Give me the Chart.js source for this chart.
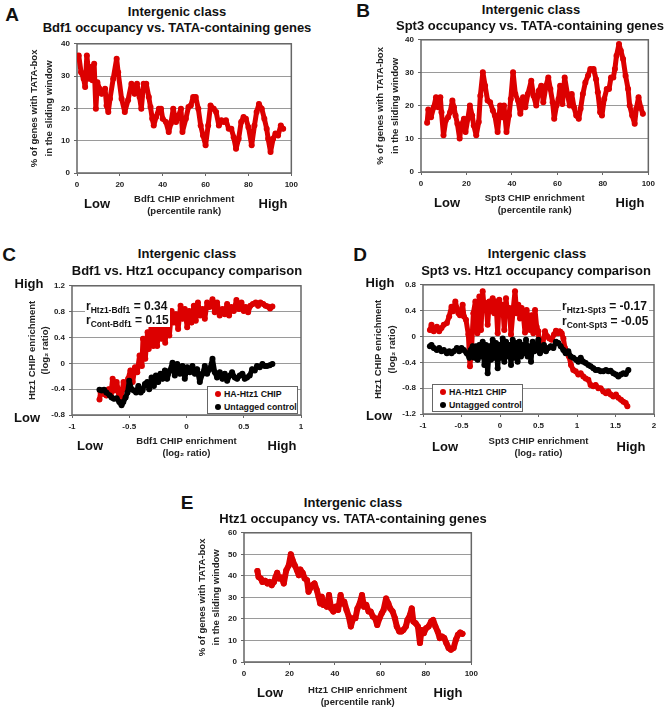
<!DOCTYPE html>
<html>
<head>
<meta charset="utf-8">
<script src="https://cdn.jsdelivr.net/npm/chart.js@4.4.0/dist/chart.umd.min.js"></script>
<style>
  body { margin: 0; background: #fff; }
  #fig { position: relative; width: 671px; height: 712px; overflow: hidden;
         font-family: "Liberation Sans", Arial, sans-serif; font-weight: bold; color: #111; }
  #fig canvas { position: absolute; }
  .t { position: absolute; transform: translate(-50%, -50%); white-space: nowrap; font-size: 13px; }
  .letter { font-size: 19px; }
  .r { position: absolute; font-size: 12px; line-height: 14px; background: #fff; white-space: nowrap; padding: 0 1px; }
  .r sub { font-size: 8.5px; line-height: 0; vertical-align: -3px; }
  .leg { position: absolute; border: 1px solid #666; background: #fff; font-size: 8.8px; box-sizing: border-box; padding-top: 1px; }
  .leg div { display: flex; align-items: center; height: 12.5px; padding-left: 7px; white-space: nowrap; }
  .leg i { display: inline-block; width: 6px; height: 6px; border-radius: 50%; margin-right: 3px; }
</style>
</head>
<body>
<div id="fig">
  <canvas id="chartA"></canvas>
  <canvas id="chartB"></canvas>
  <canvas id="chartC"></canvas>
  <canvas id="chartD"></canvas>
  <canvas id="chartE"></canvas>

  <div class="t letter" style="left:12px;top:15px">A</div>
  <div class="t" style="left:177px;top:11px">Intergenic class</div>
  <div class="t" style="left:177px;top:27px">Bdf1 occupancy vs. TATA-containing genes</div>
  <div class="t" style="left:97px;top:203px">Low</div>
  <div class="t" style="left:273px;top:203px">High</div>

  <div class="t letter" style="left:363px;top:11px">B</div>
  <div class="t" style="left:531px;top:9px">Intergenic class</div>
  <div class="t" style="left:530px;top:25px">Spt3 occupancy vs. TATA-containing genes</div>
  <div class="t" style="left:447px;top:202px">Low</div>
  <div class="t" style="left:630px;top:202px">High</div>

  <div class="t letter" style="left:9px;top:255px">C</div>
  <div class="t" style="left:187px;top:253px">Intergenic class</div>
  <div class="t" style="left:187px;top:270px">Bdf1 vs. Htz1 occupancy comparison</div>
  <div class="t" style="left:29px;top:283px">High</div>
  <div class="t" style="left:27px;top:417px">Low</div>
  <div class="t" style="left:90px;top:445px">Low</div>
  <div class="t" style="left:282px;top:445px">High</div>
  <div class="r" style="left:85px;top:299px">r<sub>Htz1-Bdf1</sub> = 0.34<br>r<sub>Cont-Bdf1</sub> = 0.15</div>
  <div class="leg" style="left:207px;top:386px;width:91px;height:28px">
    <div><i style="background:#dc0000"></i>HA-Htz1 CHIP</div>
    <div><i style="background:#000"></i>Untagged control</div>
  </div>

  <div class="t letter" style="left:360px;top:255px">D</div>
  <div class="t" style="left:537px;top:253px">Intergenic class</div>
  <div class="t" style="left:536px;top:270px">Spt3 vs. Htz1 occupancy comparison</div>
  <div class="t" style="left:380px;top:282px">High</div>
  <div class="t" style="left:379px;top:415px">Low</div>
  <div class="t" style="left:445px;top:446px">Low</div>
  <div class="t" style="left:631px;top:446px">High</div>
  <div class="r" style="left:561px;top:299px;line-height:15px">r<sub>Htz1-Spt3</sub> = -0.17<br>r<sub>Cont-Spt3</sub> = -0.05</div>
  <div class="leg" style="left:432px;top:384px;width:91px;height:28px">
    <div><i style="background:#dc0000"></i>HA-Htz1 CHIP</div>
    <div><i style="background:#000"></i>Untagged control</div>
  </div>

  <div class="t letter" style="left:187px;top:503px">E</div>
  <div class="t" style="left:353px;top:502px">Intergenic class</div>
  <div class="t" style="left:353px;top:518px">Htz1 occupancy vs. TATA-containing genes</div>
  <div class="t" style="left:270px;top:692px">Low</div>
  <div class="t" style="left:448px;top:692px">High</div>
</div>

<script>
// ---- data ----

// A: Bdf1 percentile rank vs % TATA genes
const aX = [0.8,1.9,3.1,3.8,4.6,5.7,6.5,7.2,8.0,8.8, 9.5,10.5,11.5,13.1,13.8,14.6,15.4,16.9,18.5,19.2,
  20.8,22.3,23.8,25.4,26.9,28.0,29.2,30.0,31.1,32.3, 33.5,34.3,35.1,35.8,36.9,38.2,39.2,40.0,41.5,42.8,
  43.8,44.9,46.2,47.4,48.5,49.2,50.8,52.0,53.1,54.2, 55.4,56.6,57.7,58.8,60.0,61.2,62.3,63.8,64.9,66.2,
  67.4,68.5,69.5,70.8,72.0,73.1,74.2,75.4,76.6,77.7, 78.8,80.0,81.5,82.8,83.8,84.9,86.2,87.4,88.5,89.2,
  90.3,91.5,92.6,93.8,95.1,96.2];
const aY = [36.4,31.2,29.2,26.6,36.4,29.2,32.8,28.7,33.8,19.9, 28.1,26.1,24.5,26.1,20.9,18.9,23.0,29.2,35.4,31.2,
  23.0,18.9,22.5,27.6,24.5,27.6,23.5,19.9,27.6,27.6, 23.5,20.4,16.8,14.7,17.3,19.9,19.9,16.8,15.8,12.7,
  15.3,19.9,15.8,17.8,19.9,12.7,16.8,20.4,20.9,23.5, 23.5,19.9,14.7,11.6,8.6,14.7,20.9,19.9,18.9,14.7,
  16.3,15.8,16.3,13.7,13.7,11.1,7.5,10.6,15.8,17.3, 16.8,14.2,8.6,14.7,18.9,21.4,19.9,16.8,13.7,10.6,
  6.5,10.6,12.2,11.6,14.7,13.7];

// B: Spt3 percentile rank vs % TATA genes
const bX = [2.7,3.2,4.4,5.6,6.6,7.6,8.5,9.0,9.9,10.9, 11.9,12.8,13.8,14.5,15.2,16.0,17.0,17.7,18.9,19.6,
  20.6,21.5,22.5,23.2,24.3,25.4,26.1,27.2,28.2,29.3, 30.4,31.6,32.5,33.7,34.8,35.8,36.5,37.6,38.7,39.5,
  40.5,41.5,42.7,43.7,44.9,45.9,47.0,48.5,49.5,50.7, 51.8,52.9,53.8,55.0,56.0,56.9,57.9,58.6,59.6,60.5,
  61.2,62.2,63.2,64.4,65.4,66.3,67.3,68.3,69.4,70.2, 71.2,72.3,73.5,74.5,75.9,77.0,77.8,78.8,79.6,80.6,
  81.7,82.7,83.6,84.6,85.3,86.0,87.1,87.9,88.9,90.0, 91.1,91.8,92.9,94.0,94.7,95.7,96.6,97.6];
const bY = [14.9,18.9,16.6,19.6,22.6,19.6,22.6,18.1,11.1,15.6, 16.6,18.1,21.6,19.6,17.1,14.6,10.1,14.1,16.1,12.1,
  16.1,20.1,17.1,14.1,11.1,15.1,23.1,30.2,26.1,21.6, 21.1,18.6,17.1,12.1,20.1,16.6,20.1,12.1,17.1,22.1,
  30.2,23.6,21.6,17.6,22.6,19.6,23.6,27.6,23.1,20.1, 24.6,26.1,21.1,26.1,28.6,25.1,21.1,16.1,20.1,22.1,
  26.1,20.6,28.6,23.6,20.1,23.6,19.6,17.1,16.1,19.1, 23.6,27.1,29.2,31.2,31.2,28.1,24.1,18.1,17.1,22.1,
  25.1,25.1,28.6,28.6,31.2,35.2,38.7,36.7,34.2,29.1, 25.1,20.1,17.1,14.6,19.1,22.6,19.6,17.6];

// C: Bdf1 log2 enrichment vs Htz1 log2 enrichment
const cHtzX = [-0.76,-0.75,-0.73,-0.70,-0.68,-0.66,-0.645,-0.63,-0.61,-0.59, -0.57,-0.55,-0.53,-0.51,-0.49,-0.47,-0.45,-0.43,-0.41,-0.39,
  -0.38,-0.36,-0.34,-0.33,-0.305,-0.29,-0.27,-0.256,-0.238,-0.22, -0.20,-0.186,-0.17,-0.15,-0.13,-0.11,-0.093,-0.073,-0.052,-0.035,
  -0.015,0.006,0.023,0.044,0.064,0.081,0.10,0.12,0.14,0.16, 0.18,0.20,0.227,0.247,0.267,0.29,0.314,0.334,0.355,0.372,
  0.392,0.413,0.436,0.459,0.48,0.50,0.517,0.538,0.558,0.58, 0.605,0.625,0.645,0.67,0.69,0.71,0.73,0.75];
const cHtzY = [-0.56,-0.45,-0.47,-0.50,-0.40,-0.47,-0.24,-0.42,-0.29,-0.47, -0.53,-0.29,-0.40,-0.24,-0.11,-0.29,-0.06,-0.14,0.12,-0.04,
  0.38,0.07,0.48,0.22,0.63,0.27,0.58,0.27,0.63,0.38, 0.58,0.32,0.69,0.43,0.81,0.63,0.76,0.53,0.89,0.69,
  0.84,0.56,0.81,0.63,0.89,0.66,0.94,0.74,0.84,0.69, 0.94,0.87,0.99,0.79,0.94,0.74,0.84,0.76,0.92,0.74,
  0.87,0.81,0.98,0.84,0.94,0.81,0.87,0.79,0.89,0.92, 0.94,0.89,0.94,0.92,0.89,0.88,0.85,0.88];
const cCtlX = [-0.76,-0.74,-0.72,-0.70,-0.67,-0.654,-0.634,-0.61,-0.587,-0.567, -0.552,-0.532,-0.515,-0.50,-0.48,-0.46,-0.44,-0.42,-0.40,-0.384,
  -0.363,-0.343,-0.326,-0.305,-0.285,-0.267,-0.247,-0.227,-0.209,-0.189, -0.169,-0.145,-0.122,-0.102,-0.081,-0.058,-0.035,-0.015,0.006,0.029,
  0.052,0.073,0.093,0.116,0.14,0.16,0.18,0.203,0.227,0.247, 0.267,0.291,0.314,0.334,0.355,0.378,0.398,0.422,0.442,0.465,
  0.488,0.509,0.529,0.552,0.573,0.596,0.616,0.64,0.663,0.683, 0.703,0.727,0.75];
const cCtlY = [-0.41,-0.42,-0.41,-0.45,-0.50,-0.53,-0.55,-0.54,-0.60,-0.65, -0.60,-0.53,-0.45,-0.27,-0.40,-0.42,-0.45,-0.35,-0.45,-0.42,
  -0.32,-0.29,-0.40,-0.22,-0.35,-0.19,-0.29,-0.16,-0.24,-0.11, -0.24,-0.11,0.01,-0.19,-0.01,-0.16,-0.04,-0.24,-0.06,-0.14,
  -0.04,-0.16,-0.09,-0.29,-0.16,-0.04,-0.16,-0.09,0.07,-0.14, -0.22,-0.14,-0.24,-0.16,-0.27,-0.19,-0.14,-0.22,-0.24,-0.19,
  -0.16,-0.24,-0.22,-0.19,-0.09,-0.11,-0.04,-0.06,-0.01,-0.04, -0.04,-0.03,-0.01];

// D: Spt3 log2 enrichment vs Htz1 log2 enrichment
const dHtzX = [-0.91,-0.89,-0.86,-0.82,-0.79,-0.76,-0.73,-0.69,-0.66,-0.63, -0.61,-0.58,-0.56,-0.54,-0.52,-0.50,-0.485,-0.468,-0.442,-0.411,
  -0.39,-0.368,-0.346,-0.32,-0.294,-0.268,-0.247,-0.225,-0.203,-0.182, -0.16,-0.139,-0.117,-0.095,-0.074,-0.052,-0.03,-0.009,0.013,0.035,
  0.056,0.078,0.10,0.121,0.143,0.173,0.195,0.216,0.238,0.26, 0.281,0.303,0.325,0.346,0.368,0.39,0.411,0.433,0.455,0.476,
  0.498,0.511,0.528,0.554,0.584,0.615,0.641,0.671,0.701,0.727, 0.753,0.779,0.801,0.823,0.844,0.866,0.896,0.922,0.952,0.983,
  1.017,1.048,1.082,1.113,1.147,1.177,1.212,1.242,1.277,1.307, 1.342,1.377,1.407,1.437,1.472,1.506,1.537,1.571,1.602,1.632,
  1.654];
const dHtzY = [0.10,0.18,0.08,0.15,0.08,0.13,0.18,0.21,0.31,0.46, 0.39,0.54,0.44,0.36,0.33,0.36,0.49,0.31,0.26,0.03,
  -0.46,-0.15,0.36,0.54,0.05,0.62,0.10,0.70,0.41,0.52, 0.18,0.54,0.39,0.59,0.36,0.54,0.05,0.57,0.39,0.49,
  0.10,0.59,0.33,0.44,0.03,0.44,0.70,0.36,0.49,0.28, 0.44,0.33,0.06,0.41,0.28,0.10,0.33,0.05,0.41,0.15,
  0.08,-0.23,-0.05,-0.13,0.08,0.0,-0.03,-0.05,0.03,0.09, 0.05,0.08,0.05,-0.03,-0.18,-0.26,-0.31,-0.44,-0.52,-0.54,
  -0.59,-0.57,-0.62,-0.65,-0.67,-0.75,-0.77,-0.75,-0.80,-0.80, -0.85,-0.88,-0.85,-0.90,-0.93,-0.90,-0.95,-0.98,-1.01,-1.03,
  -1.08];
const dCtlX = [-0.91,-0.89,-0.86,-0.82,-0.79,-0.76,-0.73,-0.69,-0.66,-0.63, -0.60,-0.56,-0.53,-0.50,-0.47,-0.433,-0.398,-0.381,-0.355,-0.333,
  -0.312,-0.29,-0.268,-0.247,-0.225,-0.203,-0.182,-0.16,-0.139,-0.117, -0.095,-0.074,-0.052,-0.03,-0.009,0.013,0.035,0.056,0.078,0.10,
  0.121,0.143,0.165,0.186,0.208,0.229,0.251,0.273,0.294,0.316, 0.338,0.359,0.381,0.403,0.424,0.446,0.468,0.498,0.519,0.541,
  0.571,0.597,0.628,0.658,0.693,0.727,0.758,0.788,0.823,0.853, 0.887,0.918,0.952,0.987,1.017,1.048,1.082,1.113,1.147,1.177,
  1.212,1.242,1.277,1.307,1.342,1.377,1.407,1.437,1.472,1.506, 1.537,1.571,1.602,1.632,1.667];
const dCtlY = [-0.15,-0.13,-0.18,-0.21,-0.18,-0.23,-0.21,-0.26,-0.23,-0.26, -0.23,-0.18,-0.23,-0.18,-0.21,-0.26,-0.33,-0.21,-0.15,-0.33,
  -0.15,-0.36,-0.13,-0.31,-0.08,-0.44,-0.13,-0.57,-0.15,-0.36, -0.05,-0.33,-0.10,-0.49,-0.13,-0.33,-0.03,-0.39,-0.08,-0.31,
  -0.13,-0.44,-0.05,-0.33,-0.10,-0.39,-0.08,-0.31,-0.13,-0.26, -0.05,-0.31,-0.15,-0.39,-0.08,-0.23,-0.18,-0.05,-0.26,-0.21,
  -0.13,-0.23,-0.18,-0.15,-0.18,-0.08,-0.10,-0.15,-0.21,-0.26, -0.23,-0.31,-0.33,-0.36,-0.39,-0.33,-0.39,-0.41,-0.44,-0.46,
  -0.49,-0.52,-0.52,-0.54,-0.54,-0.52,-0.54,-0.53,-0.57,-0.59, -0.62,-0.59,-0.57,-0.58,-0.52];

// E: Htz1 percentile rank vs % TATA genes
const eX = [5.9,6.4,7.4,8.1,9.3,10.3,11.3,12.2,13.2,13.9, 14.6,15.4,16.5,17.5,18.6,19.7,20.6,21.4,22.3,23.3,
  24.1,24.8,25.8,26.7,27.7,28.4,29.1,30.1,31.0,32.0, 32.8,33.5,34.2,34.9,35.7,36.4,37.4,38.3,39.3,40.3,
  41.4,42.5,43.2,44.1,45.1,46.1,47.0,48.0,49.0,49.9, 50.9,51.9,52.8,53.8,54.8,55.7,56.7,57.7,58.6,59.6,
  60.6,61.4,62.5,63.5,64.3,65.4,66.4,67.2,68.3,69.3, 70.1,71.2,71.9,73.0,73.8,74.5,75.5,76.5,77.4,78.1,
  79.1,80.1,81.2,82.3,83.2,84.2,85.2,86.1,87.1,88.1, 89.0,90.0,91.0,92.2,93.2,94.1,95.1,96.1];
const eY = [42.3,39.5,38.8,37.2,37.7,36.5,37.2,35.7,37.2,39.5, 41.4,38.8,39.2,36.5,42.6,44.9,50.0,47.2,44.9,42.6,
  40.3,42.9,41.4,38.8,38.0,32.6,34.2,35.7,36.5,33.4, 30.3,27.2,30.3,26.5,28.0,25.7,31.1,24.9,23.4,25.7,
  24.2,31.1,27.2,28.0,24.2,21.1,16.5,20.3,20.3,24.9, 27.2,31.1,25.7,26.5,23.4,23.4,21.1,20.3,17.2,20.3,
  22.6,24.2,29.5,27.2,24.9,23.4,20.3,16.5,14.2,14.2, 14.9,16.5,19.5,21.8,24.9,18.8,18.0,16.5,8.8,14.9,
  13.4,15.7,16.5,18.8,19.5,16.5,14.2,11.1,11.8,11.1, 8.8,6.5,5.7,6.5,10.3,12.6,13.7,13.1];

// tick values
const pctTicks = [0, 20, 40, 60, 80, 100];
const tata40Ticks = [0, 10, 20, 30, 40];
const tata60Ticks = [0, 10, 20, 30, 40, 50, 60];
const cXTicks = [-1, -0.5, 0, 0.5, 1];
const cYTicks = [-0.8, -0.4, 0, 0.4, 0.8, 1.2];
const dXTicks = [-1, -0.5, 0, 0.5, 1, 1.5, 2];
const dYTicks = [-1.2, -0.8, -0.4, 0, 0.4, 0.8];

// ---- drawing ----
const FONT = '"Liberation Sans", Arial, sans-serif';
const RED = '#dc0000';
const BLACK = '#000000';

// box around the plot area (Excel-style frame)
const framePlugin = {
  id: 'frame',
  beforeDatasetsDraw(chart) {
    const { ctx, chartArea: a } = chart;
    ctx.save();
    ctx.strokeStyle = '#666';
    ctx.lineWidth = 1.5;
    ctx.strokeRect(a.left, a.top, a.right - a.left, a.bottom - a.top);
    ctx.restore();
  }
};

function series(xs, ys, color, width, order) {
  return {
    data: xs.map((x, i) => ({ x: x, y: ys[i] })),
    showLine: true,
    borderColor: color,
    backgroundColor: color,
    borderWidth: width,
    borderJoinStyle: 'round',
    borderCapStyle: 'round',
    pointRadius: 3,
    pointBorderWidth: 0,
    pointHoverRadius: 0,
    tension: 0,
    order: order
  };
}

function drawPanel(id, g, p) {
  const cv = document.getElementById(id);
  cv.width = g.w; cv.height = g.h;
  cv.style.left = g.x + 'px'; cv.style.top = g.y + 'px';
  cv.style.width = g.w + 'px'; cv.style.height = g.h + 'px';

  const tickFont = { family: FONT, size: 8, weight: 'bold' };
  new Chart(cv, {
    type: 'scatter',
    data: { datasets: p.sets },
    options: {
      responsive: false,
      animation: false,
      events: [],
      layout: { padding: { top: g.pt - g.y, right: g.x + g.w - g.pr, left: 0, bottom: 0 } },
      plugins: { legend: { display: false }, tooltip: { enabled: false } },
      scales: {
        x: {
          type: 'linear', min: p.xTicks[0], max: p.xTicks[p.xTicks.length - 1],
          afterBuildTicks: s => { s.ticks = p.xTicks.map(v => ({ value: v })); },
          afterFit: s => { s.height = g.y + g.h - g.pb; },
          grid: { drawOnChartArea: false, drawTicks: true, tickLength: 3, tickColor: '#666' },
          border: { display: false },
          ticks: { font: tickFont, color: '#222', padding: 4, autoSkip: false, maxRotation: 0,
                   callback: v => String(v) },
          title: { display: true, text: p.xTitle, color: '#222',
                   font: { family: FONT, size: 9.5, weight: 'bold', lineHeight: '12px' },
                   padding: { top: 0, bottom: 2 } }
        },
        y: {
          type: 'linear', min: p.yTicks[0], max: p.yTicks[p.yTicks.length - 1],
          afterBuildTicks: s => { s.ticks = p.yTicks.map(v => ({ value: v })); },
          afterFit: s => { s.width = g.pl - g.x; },
          grid: { color: '#9a9a9a', lineWidth: 1, drawTicks: true, tickLength: 3, tickColor: '#666' },
          border: { display: false },
          ticks: { font: tickFont, color: '#222', padding: 4, autoSkip: false,
                   callback: v => String(v) },
          title: { display: true, text: p.yTitle, color: '#222',
                   font: { family: FONT, size: 9.5, weight: 'bold', lineHeight: p.yLH + 'px' },
                   padding: { top: p.yPad, bottom: 0 } }
        }
      }
    },
    plugins: [framePlugin]
  });
}

const tataTitle = ['% of genes with TATA-box', 'in the sliding window'];
const htzTitle = ['Htz1 CHIP enrichment', '(log\u2082 ratio)'];

drawPanel('chartA', { x: 22, y: 35, w: 280, h: 184, pl: 77, pt: 43, pr: 294, pb: 173 }, {
  sets: [series(aX, aY, RED, 5, 0)],
  xTicks: pctTicks, yTicks: tata40Ticks,
  xTitle: ['Bdf1 CHIP enrichment', '(percentile rank)'], yTitle: tataTitle, yLH: 15, yPad: 5
});

drawPanel('chartB', { x: 370, y: 31, w: 289, h: 187, pl: 421, pt: 39, pr: 651, pb: 172 }, {
  sets: [series(bX, bY, RED, 5, 0)],
  xTicks: pctTicks, yTicks: tata40Ticks,
  xTitle: ['Spt3 CHIP enrichment', '(percentile rank)'], yTitle: tataTitle, yLH: 15, yPad: 2.5
});

drawPanel('chartC', { x: 22, y: 277, w: 287, h: 184, pl: 72, pt: 285, pr: 301, pb: 415 }, {
  sets: [series(cHtzX, cHtzY, RED, 5, 1), series(cCtlX, cCtlY, BLACK, 5, 0)],
  xTicks: cXTicks, yTicks: cYTicks,
  xTitle: ['Bdf1 CHIP enrichment', '(log\u2082 ratio)'], yTitle: htzTitle, yLH: 13, yPad: 3.5
});

drawPanel('chartD', { x: 368, y: 276, w: 294, h: 185, pl: 423, pt: 284, pr: 654, pb: 414 }, {
  sets: [series(dHtzX, dHtzY, RED, 5, 1), series(dCtlX, dCtlY, BLACK, 5, 0)],
  xTicks: dXTicks, yTicks: dYTicks,
  xTitle: ['Spt3 CHIP enrichment', '(log\u2082 ratio)'], yTitle: htzTitle, yLH: 14, yPad: 3
});

drawPanel('chartE', { x: 192, y: 524, w: 290, h: 186, pl: 244, pt: 532, pr: 474, pb: 662 }, {
  sets: [series(eX, eY, RED, 6, 0)],
  xTicks: pctTicks, yTicks: tata60Ticks,
  xTitle: ['Htz1 CHIP enrichment', '(percentile rank)'], yTitle: tataTitle, yLH: 14, yPad: 3
});
</script>
</body>
</html>
